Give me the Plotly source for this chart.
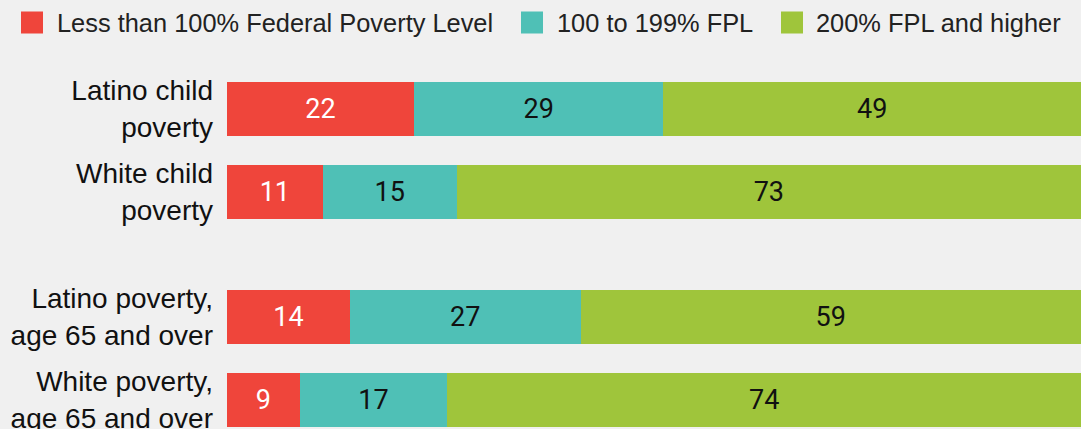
import plotly.graph_objects as go

categories = [
    'Latino child<br>poverty',
    'White child<br>poverty',
    'Latino poverty,<br>age 65 and over',
    'White poverty,<br>age 65 and over',
]
# numeric slots leave a gap between the child and the 65+ groups
positions = [0, 1, 2.5, 3.5]

series_names = ['Less than 100% Federal Poverty Level', '100 to 199% FPL', '200% FPL and higher']
# segment lengths (percent of group)
below_100 = [21.9, 11.2, 14.4, 8.5]
fpl_100_199 = [29.2, 15.7, 27.0, 17.3]
fpl_200_up = [48.9, 73.1, 58.6, 74.2]
# rounded labels printed in the bars
below_100_labels = ['22', '11', '14', '9']
fpl_100_199_labels = ['29', '15', '27', '17']
fpl_200_up_labels = ['49', '73', '59', '74']

colors = ['#ef453b', '#4fc0b6', '#9fc53b']
label_colors = ['white', '#111111', '#111111']
BAR_FONT = 'Roboto, Arial, sans-serif'
TEXT_FONT = 'Liberation Sans, Arial, sans-serif'

W, H = 1081, 429
M_L, M_R, M_T, M_B = 227, 0, 67, 0
PLOT_W, PLOT_H = W - M_L - M_R, H - M_T - M_B


def px_to_paper_x(px):
    return (px - M_L) / PLOT_W


def px_to_paper_y(py):
    return (H - M_B - py) / PLOT_H


fig = go.Figure()
series = zip(
    series_names,
    [below_100, fpl_100_199, fpl_200_up],
    [below_100_labels, fpl_100_199_labels, fpl_200_up_labels],
    colors,
    label_colors,
)
for name, values, labels, color, txt_color in series:
    fig.add_trace(
        go.Bar(
            y=positions,
            x=values,
            name=name,
            orientation='h',
            width=0.65,
            marker=dict(color=color, line=dict(width=0)),
            text=labels,
            textposition='inside',
            insidetextanchor='middle',
            textangle=0,
            textfont=dict(color=txt_color, size=27, family=BAR_FONT),
            hoverinfo='skip',
        )
    )

# legend row drawn in the top margin: square swatch + label for each series
legend_square_left = [21, 521, 781]
legend_text_left = [57, 557, 816]
square_size = 22
legend_mid_y = 22.5
for name, color, sq_x, tx_x in zip(series_names, colors, legend_square_left, legend_text_left):
    fig.add_shape(
        type='rect',
        xref='paper',
        yref='paper',
        x0=px_to_paper_x(sq_x),
        x1=px_to_paper_x(sq_x + square_size),
        y0=px_to_paper_y(legend_mid_y - square_size / 2),
        y1=px_to_paper_y(legend_mid_y + square_size / 2),
        fillcolor=color,
        line=dict(width=0),
    )
    fig.add_annotation(
        text=name,
        xref='paper',
        yref='paper',
        x=px_to_paper_x(tx_x - 2),
        y=px_to_paper_y(legend_mid_y),
        xanchor='left',
        yanchor='middle',
        showarrow=False,
        font=dict(family=TEXT_FONT, size=25.4, color='#222222'),
    )

fig.update_layout(
    barmode='stack',
    width=W,
    height=H,
    paper_bgcolor='#f0f0f0',
    plot_bgcolor='#f0f0f0',
    margin=dict(l=M_L, r=M_R, t=M_T, b=M_B, autoexpand=False),
    font=dict(family=TEXT_FONT, size=28, color='#111111'),
    showlegend=False,
    xaxis=dict(range=[0, 100], visible=False),
    yaxis=dict(
        range=[3.85, -0.5],
        tickvals=positions,
        ticktext=categories,
        showgrid=False,
        zeroline=False,
        automargin=False,
        ticklabelstandoff=13,
        ticklabeloverflow='allow',
        tickfont=dict(family=TEXT_FONT, size=28, color='#111111'),
    ),
)

# drop the default 8px body margin so the figure fills the window exactly
fig.write_html(
    'out.html',
    config={'displayModeBar': False, 'staticPlot': True},
    post_script="document.body.style.margin='0';document.body.style.overflow='hidden';",
)
